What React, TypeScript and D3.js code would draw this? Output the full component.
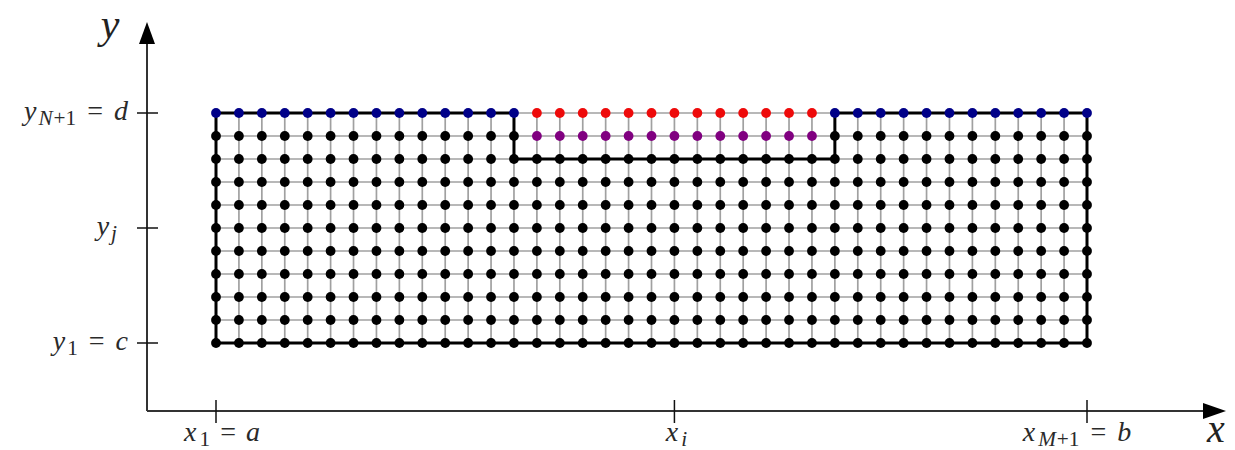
import React from "react";
import * as d3 from "d3";

// grid size: columns x_1..x_{M+1}, rows y_1..y_{N+1}
const colIdx = [0, 1, 2, 3, 4, 5, 6, 7, 8, 9, 10, 11, 12, 13, 14, 15, 16, 17, 18, 19, 20, 21, 22, 23, 24, 25, 26, 27, 28, 29, 30, 31, 32, 33, 34, 35, 36, 37, 38];
const rowIdx = [0, 1, 2, 3, 4, 5, 6, 7, 8, 9, 10];
// columns of the top opening (red on top row, purple one row below)
const openCols = [14, 15, 16, 17, 18, 19, 20, 21, 22, 23, 24, 25, 26];
// thick outline of the domain, as [col, row]
const outline: [number, number][] = [
  [0, 0], [38, 0], [38, 10], [27, 10], [27, 8], [13, 8], [13, 10], [0, 10], [0, 0],
];

type Part = { t: string; it?: boolean; sub?: boolean; dx?: number };
const xTicks: { i: number; off: number; parts: Part[] }[] = [
  { i: 0, off: 6, parts: [{ t: "x", it: true }, { t: "1", sub: true, dx: 3 }, { t: "=", dx: 10 }, { t: "a", it: true, dx: 10 }] },
  { i: 20, off: 2, parts: [{ t: "x", it: true }, { t: "i", it: true, sub: true, dx: 3 }] },
  { i: 38, off: -10, parts: [{ t: "x", it: true }, { t: "M", it: true, sub: true, dx: 3 }, { t: "+1", sub: true, dx: 1 }, { t: "=", dx: 11 }, { t: "b", it: true, dx: 11 }] },
];
const yTicks: { j: number; end: number; parts: Part[] }[] = [
  { j: 10, end: 128, parts: [{ t: "y", it: true }, { t: "N", it: true, sub: true, dx: 2 }, { t: "+1", sub: true, dx: 1 }, { t: "=", dx: 11 }, { t: "d", it: true, dx: 11 }] },
  { j: 5, end: 117, parts: [{ t: "y", it: true }, { t: "j", it: true, sub: true, dx: 2 }] },
  { j: 0, end: 128, parts: [{ t: "y", it: true }, { t: "1", sub: true, dx: 2 }, { t: "=", dx: 11 }, { t: "c", it: true, dx: 11 }] },
];

const FONT = "'Liberation Serif', 'DejaVu Serif', serif";

const Label = ({ x, y, parts, anchor, size }: { x: number; y: number; parts: Part[]; anchor: string; size: number }) => {
  let shift = 0;
  return (
    <text x={x} y={y} textAnchor={anchor} fontFamily={FONT} fontSize={size} fill="#2a2a2a">
      {parts.map((p, k) => {
        const target = p.sub ? 5 : 0;
        const dy = target - shift;
        shift = target;
        return (
          <tspan key={k} dx={p.dx || 0} dy={dy} fontStyle={p.it ? "italic" : "normal"} fontSize={p.sub ? size * 0.76 : size}>
            {p.t}
          </tspan>
        );
      })}
    </text>
  );
};

export default function App() {
  const W = 1235, H = 450;
  const x = d3.scaleLinear().domain([0, 38]).range([216, 1087]);
  const y = d3.scaleLinear().domain([0, 10]).range([343, 113]);
  const axX = 147, axY = 411;

  const line = d3.line<[number, number]>().x(d => x(d[0])).y(d => y(d[1]));

  const nodeColor = (c: number, r: number) => {
    const open = openCols.includes(c);
    if (r === 10) return open ? "#ee0a0a" : "#000088";
    if (r === 9 && open) return "#800080";
    return "#000";
  };

  return (
    <svg width={W} height={H} style={{ position: "absolute", left: 0, top: 0 }}>
      <rect width={W} height={H} fill="#fff" />
      {/* axes */}
      <line x1={axX} y1={axY} x2={1205} y2={axY} stroke="#333" strokeWidth={2} />
      <line x1={axX} y1={axY} x2={axX} y2={42} stroke="#333" strokeWidth={2} />
      <path d={`M${1226},${axY} L${1203},${axY - 8} L${1203},${axY + 8} Z`} fill="#000" />
      <path d={`M${axX},${22} L${axX - 8},${44} L${axX + 8},${44} Z`} fill="#000" />
      {xTicks.map(t => (
        <line key={"xt" + t.i} x1={x(t.i)} x2={x(t.i)} y1={axY - 11} y2={axY + 12} stroke="#111" strokeWidth={1.5} />
      ))}
      {yTicks.map(t => (
        <line key={"yt" + t.j} x1={axX - 10} x2={axX + 11} y1={y(t.j)} y2={y(t.j)} stroke="#111" strokeWidth={1.5} />
      ))}
      {xTicks.map(t => (
        <Label key={"xl" + t.i} x={x(t.i) + t.off} y={441} parts={t.parts} anchor="middle" size={28} />
      ))}
      {yTicks.map(t => (
        <Label key={"yl" + t.j} x={t.end} y={y(t.j) + 7} parts={t.parts} anchor="end" size={28} />
      ))}
      <text x={1216} y={442} textAnchor="middle" fontFamily={FONT} fontStyle="italic" fontSize={40} fill="#222">x</text>
      <text x={110} y={38} textAnchor="middle" fontFamily={FONT} fontStyle="italic" fontSize={42} fill="#222">y</text>

      {/* thin grid */}
      <g stroke="#a0a0a0" strokeWidth={1.7}>
        {rowIdx.map(r => (
          <line key={"h" + r} x1={x(0)} x2={x(38)} y1={y(r)} y2={y(r)} />
        ))}
        {colIdx.map(c => (
          <line key={"v" + c} x1={x(c)} x2={x(c)} y1={y(0)} y2={y(10)} />
        ))}
      </g>
      {/* thick boundary */}
      <path d={line(outline) || ""} fill="none" stroke="#000" strokeWidth={3} strokeLinejoin="miter" />
      {/* nodes */}
      {rowIdx.map(r =>
        colIdx.map(c => (
          <circle key={c + "-" + r} cx={x(c)} cy={y(r)} r={4.9} fill={nodeColor(c, r)} />
        ))
      )}
    </svg>
  );
}
